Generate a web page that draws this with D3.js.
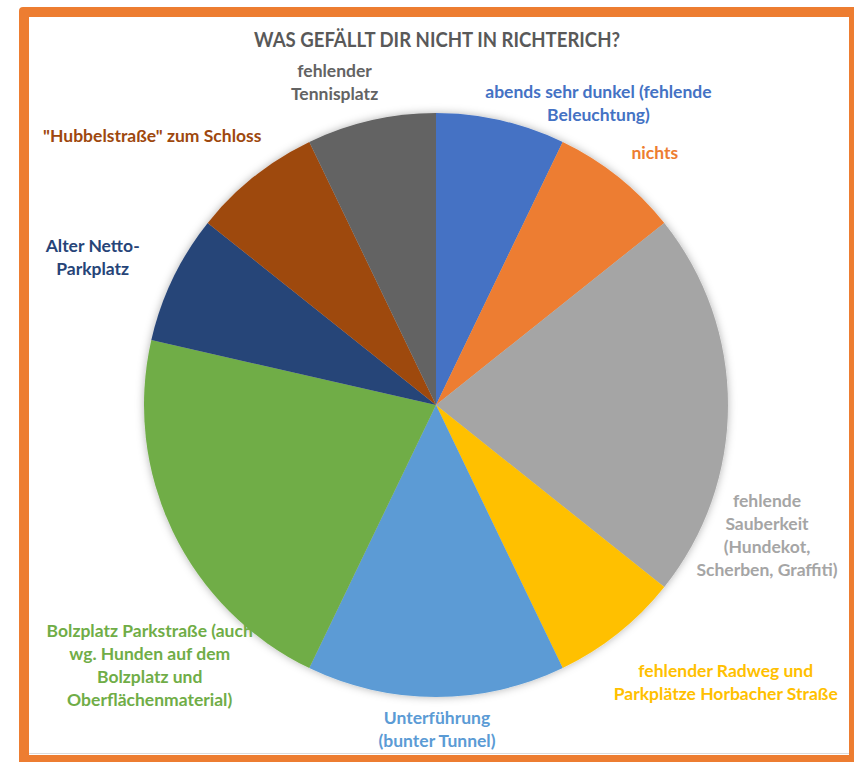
<!DOCTYPE html>
<html>
<head>
<meta charset="utf-8">
<script src="https://cdn.jsdelivr.net/npm/d3@7"></script>
<style>
  html, body { margin: 0; padding: 0; background: #fff; }
  svg { display: block; font-family: Lato, "Open Sans", sans-serif; }
</style>
</head>
<body>
<div id="chart"></div>
<script>
// ---- data ----
const categories = [
  "abends sehr dunkel (fehlende Beleuchtung)",
  "nichts",
  "fehlende Sauberkeit (Hundekot, Scherben, Graffiti)",
  "fehlender Radweg und Parkplätze Horbacher Straße",
  "Unterführung (bunter Tunnel)",
  "Bolzplatz Parkstraße (auch wg. Hunden auf dem Bolzplatz und Oberflächenmaterial)",
  "Alter Netto-Parkplatz",
  "\"Hubbelstraße\" zum Schloss",
  "fehlender Tennisplatz"
];
const values = [1, 1, 3, 1, 2, 3, 1, 1, 1];

// label line breaks as shown in the chart
const labelLines = [
  ["abends sehr dunkel (fehlende", "Beleuchtung)"],
  ["nichts"],
  ["fehlende", "Sauberkeit", "(Hundekot,", "Scherben, Graffiti)"],
  ["fehlender Radweg und", "Parkplätze Horbacher Straße"],
  ["Unterführung", "(bunter Tunnel)"],
  ["Bolzplatz Parkstraße (auch", "wg. Hunden auf dem", "Bolzplatz und", "Oberflächenmaterial)"],
  ["Alter Netto-", "Parkplatz"],
  ["\"Hubbelstraße\" zum Schloss"],
  ["fehlender", "Tennisplatz"]
];

const title = "WAS GEFÄLLT DIR NICHT IN RICHTERICH?";

// ---- styles / layout ----
const COLORS = ["#4472C4", "#ED7D31", "#A5A5A5", "#FFC000", "#5B9BD5",
                "#70AD47", "#264478", "#9E480E", "#636363"];
// nudges from the outer centroid to where the labels sit (best-fit placement)
const labelNudge = [[89, 15], [13, 12], [1, 102], [84, 14], [1, -11],
                    [11, 89], [-46, -10], [-78, -5], [-28, -6]];

const width = 854, height = 762;
const cx = 436, cy = 405, r = 292;
const lineH = 23;

const svg = d3.select("#chart").append("svg")
  .attr("width", width)
  .attr("height", height);

// frame
svg.append("rect")
  .attr("x", 19).attr("y", 7)
  .attr("width", 845).attr("height", 765)
  .attr("rx", 4)
  .attr("fill", "#ED7D31");
svg.append("rect")
  .attr("x", 29).attr("y", 17)
  .attr("width", 820).attr("height", 738)
  .attr("fill", "#fff");
svg.append("line")
  .attr("x1", 29).attr("x2", 849)
  .attr("y1", 753.5).attr("y2", 753.5)
  .attr("stroke", "#dcdcdc");

// title
svg.append("text")
  .attr("x", 437).attr("y", 47)
  .attr("text-anchor", "middle")
  .attr("font-size", 21)
  .attr("font-weight", 700)
  .attr("fill", "#595959")
  .attr("textLength", 366)
  .attr("lengthAdjust", "spacingAndGlyphs")
  .text(title);

// shadow
const defs = svg.append("defs");
const f = defs.append("filter").attr("id", "pieShadow")
  .attr("x", "-10%").attr("y", "-10%").attr("width", "120%").attr("height", "120%");
f.append("feDropShadow")
  .attr("dx", 0).attr("dy", 0)
  .attr("stdDeviation", 4)
  .attr("flood-color", "#000")
  .attr("flood-opacity", 0.3);

const pie = d3.pie().sort(null).value(d => d);
const arcs = pie(values);

const arc = d3.arc().innerRadius(0).outerRadius(r);
const labelArc = d3.arc().innerRadius(330).outerRadius(330);

const g = svg.append("g")
  .attr("transform", `translate(${cx},${cy})`);

g.append("g")
  .attr("filter", "url(#pieShadow)")
  .selectAll("path")
  .data(arcs)
  .enter()
  .append("path")
  .attr("d", arc)
  .attr("fill", (d, i) => COLORS[i]);

// labels
const labels = g.selectAll("text.lbl")
  .data(arcs)
  .enter()
  .append("text")
  .attr("class", "lbl")
  .attr("text-anchor", "middle")
  .attr("font-size", 17.5)
  .attr("font-weight", 700)
  .attr("fill", (d, i) => COLORS[i])
  .attr("transform", (d, i) => {
    const [x, y] = labelArc.centroid(d);
    return `translate(${x + labelNudge[i][0]},${y + labelNudge[i][1]})`;
  });

labels.each(function(d, i) {
  const t = d3.select(this);
  labelLines[i].forEach((line, k) => {
    t.append("tspan")
      .attr("x", 0)
      .attr("y", k * lineH)
      .text(line);
  });
});
</script>
</body>
</html>
